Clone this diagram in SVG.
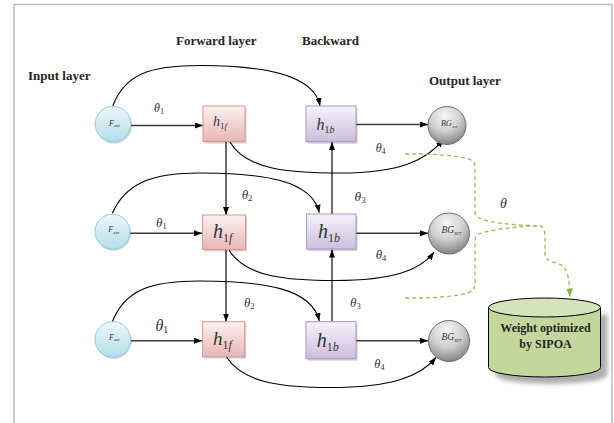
<svg xmlns="http://www.w3.org/2000/svg" width="614" height="423" viewBox="0 0 614 423">
  <style>
    .layer { font-family: "Liberation Serif", "Times New Roman", serif; font-weight: bold; font-size: 13px; fill: #262626; }
    .math { font-family: "Liberation Serif", "Times New Roman", serif; font-style: italic; fill: #333; }
    .up { font-style: normal; }
    .wire { fill: none; stroke: #000; stroke-width: 1.1; }
    .straight { fill: none; stroke: #3a3a3a; stroke-width: 1.5; }
    .dash { fill: none; stroke: #9bbb59; stroke-width: 1.3; stroke-dasharray: 4 3; }
    .fwd { fill: url(#fwdGrad); stroke: #d99694; stroke-width: 1; }
    .bwd { fill: url(#bwdGrad); stroke: #a995c6; stroke-width: 1; }
    .inp { fill: url(#inGrad); stroke: #8ecfe0; stroke-width: 1; }
    .out { fill: url(#outGrad); stroke: #6f6f6f; stroke-width: 1; }
    .shade { fill: #000; opacity: 0.18; }
  </style>
  <defs>
    <linearGradient id="fwdGrad" x1="0" y1="0" x2="0" y2="1">
      <stop offset="0" stop-color="#fdf1f1"/>
      <stop offset="1" stop-color="#e7b6b5"/>
    </linearGradient>
    <linearGradient id="bwdGrad" x1="0" y1="0" x2="0" y2="1">
      <stop offset="0" stop-color="#f6f2fa"/>
      <stop offset="1" stop-color="#cbbfdc"/>
    </linearGradient>
    <linearGradient id="inGrad" x1="0" y1="0" x2="0" y2="1">
      <stop offset="0" stop-color="#eef8fb"/>
      <stop offset="1" stop-color="#b3dde9"/>
    </linearGradient>
    <radialGradient id="outGrad" cx="0.45" cy="0.25" r="0.8">
      <stop offset="0" stop-color="#f7f7f7"/>
      <stop offset="0.5" stop-color="#cfcfcf"/>
      <stop offset="1" stop-color="#7a7a7a"/>
    </radialGradient>
    <filter id="soft" x="-20%" y="-20%" width="140%" height="140%">
      <feGaussianBlur stdDeviation="2"/>
    </filter>
    <marker id="arr" markerWidth="8" markerHeight="6" refX="8" refY="3" orient="auto" markerUnits="userSpaceOnUse">
      <path d="M0,0 L8,3 L0,6 z" fill="#000"/>
    </marker>
    <marker id="garr" markerWidth="8" markerHeight="7" refX="8" refY="3.5" orient="auto" markerUnits="userSpaceOnUse">
      <path d="M0,0 L8,3.5 L0,7 z" fill="#8fb33e"/>
    </marker>
  </defs>

  <rect width="614" height="423" fill="#fff"/>
  <!-- outer frame -->
  <rect x="14" y="4.5" width="598" height="430" fill="none" stroke="#bdbdbd" stroke-width="1.5"/>

  <!-- layer titles -->
  <text class="layer" x="28" y="80">Input layer</text>
  <text class="layer" x="176" y="45">Forward layer</text>
  <text class="layer" x="302" y="45">Backward</text>
  <text class="layer" x="429" y="85">Output layer</text>

  <g id="connectors">
    <!-- input to forward -->
    <line class="straight" x1="131" y1="125.5" x2="203" y2="125.5" marker-end="url(#arr)"/>
    <line class="straight" x1="130" y1="233.3" x2="202" y2="233.3" marker-end="url(#arr)"/>
    <line class="straight" x1="130.5" y1="340.7" x2="202" y2="340.7" marker-end="url(#arr)"/>
    <!-- backward to output -->
    <line class="straight" x1="356" y1="124.5" x2="428" y2="124.5" marker-end="url(#arr)"/>
    <line class="straight" x1="356" y1="233.3" x2="428" y2="233.3" marker-end="url(#arr)"/>
    <line class="straight" x1="356" y1="340.7" x2="428" y2="340.7" marker-end="url(#arr)"/>
    <!-- forward chain -->
    <line class="straight" x1="226" y1="142" x2="226" y2="215" marker-end="url(#arr)"/>
    <line class="straight" x1="226" y1="250" x2="226" y2="321.7" marker-end="url(#arr)"/>
    <!-- backward chain -->
    <line class="straight" x1="332" y1="214" x2="332" y2="142" marker-end="url(#arr)"/>
    <line class="straight" x1="332" y1="321.7" x2="332" y2="249.5" marker-end="url(#arr)"/>
    <!-- input to backward -->
    <path class="wire" d="M112.7,106 C125,74 150,65.5 200,65.5 C262,65.5 314,74 320,106" marker-end="url(#arr)"/>
    <path class="wire" d="M112.3,213.5 C125,184 150,173 200,173 C262,173 312,180 319.3,212.7" marker-end="url(#arr)"/>
    <path class="wire" d="M112.3,321.7 C125,290 150,281 200,281 C262,281 312,288 319.3,321" marker-end="url(#arr)"/>
    <!-- forward to output -->
    <path class="wire" d="M230,142 C246,170 290,173 340,173 C400,173 427,160 443.3,139.3" marker-end="url(#arr)"/>
    <path class="wire" d="M229,250 C246,278 290,280.5 335,280.5 C393,280.5 421,270 434,252" marker-end="url(#arr)"/>
    <path class="wire" d="M226.5,357 C244,385 290,387.5 330,387.5 C392,387.5 421,376 436,357.3" marker-end="url(#arr)"/>
    <!-- weight paths to the optimizer -->
    <path class="dash" d="M405,154 L423,154 C450,155 467,157 472,160.5 C475,163 475,166 475,170 L475,212 C475,220 492,223 520,225 L541,226 C544,228 545,232 545,236 L545,256 C546,262 557,262 562,265.5 C568,270 569.5,280 569.8,296.5" marker-end="url(#garr)"/>
    <path class="dash" d="M405,298 L423,298 C450,297 467,294.5 472,291 C475,288 475,285 475,281 L475,240 C475,234 482,232 500,229 C515,227 528,226 541,226"/>
  </g>

  <!-- weight labels -->
  <g id="weights">
    <text class="math" x="154" y="111.5" font-size="12">θ<tspan class="up" font-size="8" dy="2">1</tspan></text>
    <text class="math" x="156" y="226.7" font-size="13">θ<tspan class="up" font-size="8.5" dy="2">1</tspan></text>
    <text class="math" x="155.5" y="330.7" font-size="16">θ<tspan class="up" font-size="10" dy="2.5">1</tspan></text>
    <text class="math" x="241.7" y="199" font-size="13">θ<tspan class="up" font-size="8.5" dy="2">2</tspan></text>
    <text class="math" x="244" y="306.7" font-size="13">θ<tspan class="up" font-size="8.5" dy="2">2</tspan></text>
    <text class="math" x="354.5" y="201" font-size="13.5">θ<tspan class="up" font-size="9" dy="2">3</tspan></text>
    <text class="math" x="350" y="306.7" font-size="13">θ<tspan class="up" font-size="8.5" dy="2">3</tspan></text>
    <text class="math" x="375.7" y="151.7" font-size="12">θ<tspan class="up" font-size="8" dy="2">4</tspan></text>
    <text class="math" x="375.7" y="259.3" font-size="13">θ<tspan class="up" font-size="8.5" dy="2">4</tspan></text>
    <text class="math" x="374.3" y="368.3" font-size="12.5">θ<tspan class="up" font-size="8" dy="2">4</tspan></text>
    <text class="math" x="500" y="208.3" font-size="14">θ</text>
  </g>

  <!-- input layer -->
  <g id="input1">
    <circle class="shade" cx="114" cy="125.5" r="18"/>
    <circle class="inp" cx="113" cy="124" r="17.8"/>
    <text class="math" x="109" y="125.5" font-size="8">F<tspan font-size="5" dy="1.5">ext</tspan></text>
  </g>
  <g id="input2">
    <circle class="shade" cx="113.5" cy="233.2" r="17.5"/>
    <circle class="inp" cx="112.5" cy="231.7" r="17.5"/>
    <text class="math" x="108.3" y="232" font-size="8">F<tspan font-size="5" dy="1.5">ext</tspan></text>
  </g>
  <g id="input3">
    <circle class="shade" cx="113.8" cy="341" r="17.8"/>
    <circle class="inp" cx="112.8" cy="339.5" r="17.8"/>
    <text class="math" x="109" y="339.5" font-size="8">F<tspan font-size="5" dy="1.5">ext</tspan></text>
  </g>

  <!-- forward layer -->
  <g id="forward1">
    <rect class="shade" x="204.5" y="108" width="42" height="35.5"/>
    <rect class="fwd" x="203" y="106" width="42" height="35.5"/>
    <text class="math" x="213" y="126" font-size="14">h<tspan class="up" font-size="9" dy="3">1</tspan><tspan font-size="9">f</tspan></text>
  </g>
  <g id="forward2">
    <rect class="shade" x="204" y="217" width="43" height="34.5"/>
    <rect class="fwd" x="202.5" y="215" width="43" height="34.5"/>
    <text class="math" x="213" y="238.3" font-size="20">h<tspan class="up" font-size="12" dy="4">1</tspan><tspan font-size="12">f</tspan></text>
  </g>
  <g id="forward3">
    <rect class="shade" x="204" y="323.7" width="42.2" height="35"/>
    <rect class="fwd" x="202.5" y="321.7" width="42.2" height="35"/>
    <text class="math" x="213" y="345" font-size="19">h<tspan class="up" font-size="12" dy="4">1</tspan><tspan font-size="12">f</tspan></text>
  </g>

  <!-- backward layer -->
  <g id="backward1">
    <rect class="shade" x="307.5" y="108" width="50" height="35.7"/>
    <rect class="bwd" x="306" y="106" width="50" height="35.7"/>
    <text class="math" x="316.5" y="130" font-size="16">h<tspan class="up" font-size="10" dy="3">1</tspan><tspan font-size="10">b</tspan></text>
  </g>
  <g id="backward2">
    <rect class="shade" x="308" y="216" width="49.5" height="35"/>
    <rect class="bwd" x="306.5" y="214" width="49.5" height="35"/>
    <text class="math" x="318" y="238.3" font-size="20">h<tspan class="up" font-size="12" dy="4">1</tspan><tspan font-size="12">b</tspan></text>
  </g>
  <g id="backward3">
    <rect class="shade" x="307.5" y="323.7" width="50" height="37"/>
    <rect class="bwd" x="306" y="321.7" width="50" height="37"/>
    <text class="math" x="316.7" y="346.7" font-size="20">h<tspan class="up" font-size="12" dy="4">1</tspan><tspan font-size="12">b</tspan></text>
  </g>

  <!-- output layer -->
  <g id="output1">
    <circle class="out" cx="447" cy="125.5" r="19"/>
    <text class="math" x="441" y="126" font-size="8">BG<tspan font-size="5" dy="1.5">scr</tspan></text>
  </g>
  <g id="output2">
    <circle class="out" cx="449" cy="233.5" r="20.5"/>
    <text class="math" x="441.5" y="233" font-size="9.5">BG<tspan font-size="6" dy="1.5">scr</tspan></text>
  </g>
  <g id="output3">
    <circle class="out" cx="449" cy="341" r="20.5"/>
    <text class="math" x="441.5" y="340" font-size="9.5">BG<tspan font-size="6" dy="1.5">scr</tspan></text>
  </g>

  <!-- optimizer store -->
  <g id="optimizer">
    <path d="M495.5,314.5 L607.5,314.5 L607.5,374.5 A56,9.5 0 0 1 495.5,374.5 Z" fill="#8c8c8c" opacity="0.7" filter="url(#soft)"/>
    <path d="M488.5,307.5 L488.5,367.5 A56,9.5 0 0 0 600.5,367.5 L600.5,307.5" fill="#c3d69b" stroke="#000" stroke-width="1"/>
    <ellipse cx="544.5" cy="307.5" rx="56" ry="9.5" fill="#d5e3bb" stroke="#000" stroke-width="1"/>
    <text class="layer" x="545.5" y="331.7" font-size="12" text-anchor="middle" style="font-size:12px">Weight optimized</text>
    <text class="layer" x="545.5" y="347.7" font-size="12" text-anchor="middle" style="font-size:12px">by SIPOA</text>
  </g>
</svg>
